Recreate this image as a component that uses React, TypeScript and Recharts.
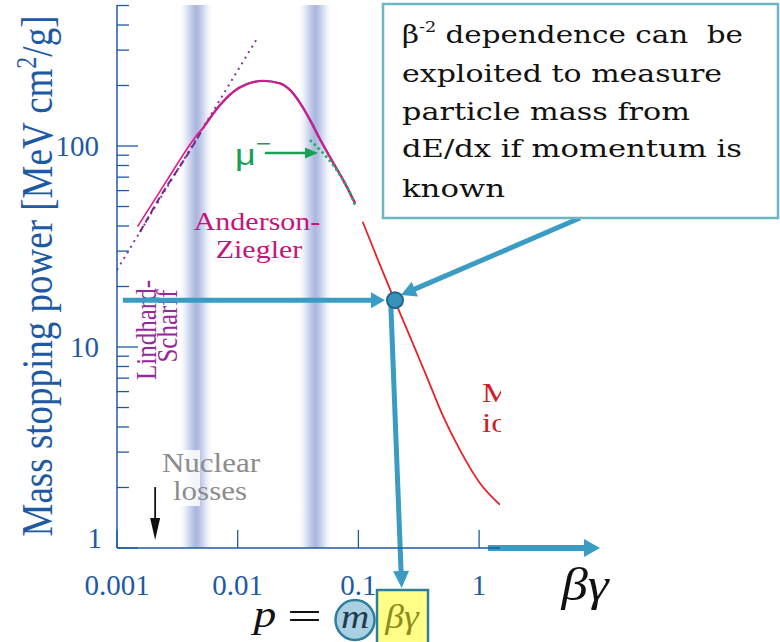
import React from "react";
import { ComposedChart, XAxis, YAxis, Line, ReferenceArea, ReferenceLine, ReferenceDot } from "recharts";

// curve readings (beta*gamma, MeV cm2/g)
const andersonZiegler = [
  { x: 0.00148, y: 39.7 },
  { x: 0.0026, y: 67.7 },
  { x: 0.00446, y: 111 },
  { x: 0.00536, y: 127 },
  { x: 0.00714, y: 160 },
  { x: 0.00919, y: 186 },
  { x: 0.01188, y: 203 },
  { x: 0.0163, y: 211 },
  { x: 0.0224, y: 205 },
  { x: 0.0271, y: 190 },
  { x: 0.0328, y: 164 },
  { x: 0.0397, y: 135 },
  { x: 0.0481, y: 108 },
  { x: 0.062, y: 82.3 },
  { x: 0.0749, y: 67.7 },
  { x: 0.0937, y: 52 },
];
const lindhardDashed = [
  { x: 0.00155, y: 37.3 },
  { x: 0.00228, y: 55.9 },
  { x: 0.00405, y: 95.5 },
  { x: 0.00536, y: 127 },
];
const lindhardSolid = andersonZiegler.slice(3);
const velocityLine = [
  { x: 0.001, y: 24.2 },
  { x: 0.0144, y: 341 },
];
const muonMinus = [
  { x: 0.0397, y: 107 },
  { x: 0.0497, y: 93.7 },
  { x: 0.0661, y: 75.9 },
  { x: 0.088, y: 55.9 },
  { x: 0.0937, y: 50.9 },
];
const betheBloch = [
  { x: 0.1085, y: 42.0 },
  { x: 0.1418, y: 28.1 },
  { x: 0.1888, y: 18.5 },
  { x: 0.2677, y: 11.25 },
  { x: 0.3681, y: 7.12 },
  { x: 0.5051, y: 4.5 },
  { x: 0.6948, y: 3.07 },
  { x: 1.017, y: 2.1 },
  { x: 1.49, y: 1.64 },
];
const measuredPoint = { x: 0.201, y: 17.1 };

// shaded bands (x ranges)
const bands = [
  [0.0032, 0.00637],
  [0.031, 0.0616],
];

const xTicks = [0.001, 0.01, 0.1, 1];
const xTopTicks = [0.01, 0.1, 1];
const yTicks = [1, 2, 3, 4, 5, 6, 7, 8, 9, 10, 20, 30, 40, 50, 60, 70, 80, 90, 100, 200, 300, 400, 500];
const yMajor = [1, 10, 100];

const boxLines = [
  "exploited to measure",
  "particle mass from",
  "dE/dx if momentum is",
  "known",
];

const BLUE = "#1d5aa3";
const TEAL = "#3a9bc3";
const SERIF = "Liberation Serif";

function arrowShape(color: string, width: number, head: number, half: number) {
  return (p: any) => {
    const { x1, y1, x2, y2 } = p;
    const dx = x2 - x1;
    const dy = y2 - y1;
    const len = Math.hypot(dx, dy) || 1;
    const ux = dx / len;
    const uy = dy / len;
    const bx = x2 - ux * head;
    const by = y2 - uy * head;
    return (
      <g>
        <line x1={x1} y1={y1} x2={bx + ux * 2} y2={by + uy * 2} stroke={color} strokeWidth={width} />
        <polygon
          points={`${x2},${y2} ${bx - uy * half},${by + ux * half} ${bx + uy * half},${by - ux * half}`}
          fill={color}
        />
      </g>
    );
  };
}

const YTick = (props: any) => {
  const { x, y, payload } = props;
  const v = payload.value;
  const major = yMajor.includes(v);
  return (
    <g>
      <line x1={x} y1={y} x2={x + (major ? 21 : 12)} y2={y} stroke={BLUE} strokeWidth={1.3} />
      {major && (
        <text x={v === 1 ? x - 15 : x - 18} y={v === 1 ? y - 10 : y} dy="0.35em" textAnchor="end"
          fontFamily={SERIF} fontSize={29} fill={BLUE}>
          {v}
        </text>
      )}
    </g>
  );
};

const XTick = (props: any) => {
  const { x, y, payload } = props;
  return (
    <g>
      <line x1={x} y1={y} x2={x} y2={y - 18} stroke={BLUE} strokeWidth={1.3} />
      <text x={x} y={y + 47} textAnchor="middle" fontFamily={SERIF} fontSize={29} fill={BLUE}>
        {payload.value}
      </text>
    </g>
  );
};

const TopTick = (props: any) => {
  const { x, y } = props;
  return <line x1={x} y1={y} x2={x} y2={y + 18} stroke={BLUE} strokeWidth={1.3} />;
};

export default function App() {
  return (
    <div style={{ position: "absolute", left: 0, top: 0, width: 780, height: 642, background: "#fff" }}>
      <ComposedChart width={780} height={642} margin={{ top: 5, right: 280, bottom: 64, left: 57 }}>
        <defs>
          <linearGradient id="band" x1="0" y1="0" x2="1" y2="0">
            <stop offset="0" stopColor="#ffffff" stopOpacity={0} />
            <stop offset="0.22" stopColor="#e4e9f6" />
            <stop offset="0.42" stopColor="#b8c3e5" />
            <stop offset="0.5" stopColor="#a9b6de" />
            <stop offset="0.6" stopColor="#b8c3e5" />
            <stop offset="0.8" stopColor="#e7ecf7" />
            <stop offset="1" stopColor="#ffffff" stopOpacity={0} />
          </linearGradient>
        </defs>
        <XAxis dataKey="x" type="number" scale="log" domain={[0.001, 1.49]} ticks={xTicks} interval={0}
          allowDataOverflow height={30} tickSize={0} tickMargin={0} tick={<XTick />} tickLine={false}
          axisLine={{ stroke: BLUE, strokeWidth: 1.5 }} />
        <XAxis xAxisId="top" orientation="top" dataKey="x" type="number" scale="log" domain={[0.001, 1.49]}
          ticks={xTopTicks} interval={0} allowDataOverflow height={0} tickSize={0} tickMargin={0}
          tick={<TopTick />} tickLine={false} axisLine={{ stroke: BLUE, strokeWidth: 1.5 }} />
        <YAxis dataKey="y" type="number" scale="log" domain={[1, 503]} ticks={yTicks} interval={0}
          allowDataOverflow width={60} tickSize={0} tickMargin={0} tick={<YTick />} tickLine={false}
          axisLine={{ stroke: BLUE, strokeWidth: 1.5 }} />

        {bands.map(([a, b], i) => (
          <ReferenceArea key={i} x1={a} x2={b} y1={1} y2={503} fill="url(#band)" fillOpacity={1} stroke="none" />
        ))}

        <g>
          <text transform="translate(52,276) scale(1.2,1) rotate(-90)" textAnchor="middle" fontFamily={SERIF}
            fontSize={37} fill={BLUE}>
            Mass stopping power [MeV cm
            <tspan dy={-13} fontSize={24}>2</tspan>
            <tspan dy={13}>/g]</tspan>
          </text>
          <text transform="translate(156,330) scale(1.2,1) rotate(-90)" textAnchor="middle" fontFamily={SERIF}
            fontSize={25} fill="#97279a">
            Lindhard-
          </text>
          <text transform="translate(177,326) scale(1.2,1) rotate(-90)" textAnchor="middle" fontFamily={SERIF}
            fontSize={25} fill="#97279a">
            Scharff
          </text>
        </g>

        <Line data={velocityLine} dataKey="y" type="linear" stroke="#8a3597" strokeWidth={2}
          strokeDasharray="2 4.5" dot={false} isAnimationActive={false} />
        <Line data={lindhardDashed} dataKey="y" type="monotone" stroke="#6e2c8f" strokeWidth={2}
          strokeDasharray="7 4" dot={false} isAnimationActive={false} />
        <Line data={lindhardSolid} dataKey="y" type="monotone" stroke="#6e2c8f" strokeWidth={2.4}
          dot={false} isAnimationActive={false} />
        <Line data={andersonZiegler} dataKey="y" type="monotone" stroke="#e8178a" strokeWidth={1.6}
          dot={false} isAnimationActive={false} />
        <Line data={muonMinus} dataKey="y" type="monotone" stroke="#1fae5a" strokeWidth={2.6}
          strokeDasharray="2.5 3" dot={false} isAnimationActive={false} />
        <Line data={betheBloch} dataKey="y" type="monotone" stroke="#e8222a" strokeWidth={1.8}
          dot={false} isAnimationActive={false} />

        <ReferenceLine segment={[{ x: 0.0168, y: 92.3 }, { x: 0.0463, y: 92.3 }]} ifOverflow="visible"
          shape={arrowShape("#1aa055", 2.5, 13, 5.5)} />
        <ReferenceLine segment={[{ x: 0.00207, y: 2.01 }, { x: 0.00207, y: 1.096 }]} ifOverflow="visible"
          shape={arrowShape("#111111", 1.8, 22, 5)} />
        <ReferenceLine segment={[{ x: 0.00112, y: 17.1 }, { x: 0.166, y: 17.1 }]} ifOverflow="visible"
          shape={arrowShape(TEAL, 5, 14, 8)} />
        <ReferenceLine segment={[{ x: 6.85, y: 43.8 }, { x: 0.2254, y: 18.14 }]} ifOverflow="visible"
          shape={arrowShape(TEAL, 5, 15, 8)} />
        <ReferenceLine segment={[{ x: 0.185, y: 17.1 }, { x: 0.2285, y: 0.632 }]} ifOverflow="visible"
          shape={arrowShape(TEAL, 5, 17, 8)} />
        <ReferenceLine segment={[{ x: 1.185, y: 1 }, { x: 10.04, y: 1 }]} ifOverflow="visible"
          shape={arrowShape(TEAL, 6, 16, 9)} />
        <ReferenceDot x={measuredPoint.x} y={measuredPoint.y} r={8} fill="#3692ba" stroke="#1f6688"
          strokeWidth={2} ifOverflow="visible" />
      </ComposedChart>

      <svg width={780} height={642} style={{ position: "absolute", left: 0, top: 0, pointerEvents: "none" }}>
        <defs>
          <clipPath id="plotRight">
            <rect x={0} y={0} width={501} height={642} />
          </clipPath>
        </defs>

        <text transform="translate(257,230) scale(1.2,1)" textAnchor="middle" fontFamily={SERIF}
          fontSize={25} fill="#c8127a">Anderson-</text>
        <text transform="translate(259,258) scale(1.2,1)" textAnchor="middle" fontFamily={SERIF}
          fontSize={25} fill="#c8127a">Ziegler</text>

        <rect x={172} y={450} width={28} height={56} fill="#ffffff" fillOpacity={0.85} />
        <text transform="translate(211,472) scale(1.15,1)" textAnchor="middle" fontFamily={SERIF}
          fontSize={27} fill="#8c8c8c">Nuclear</text>
        <text transform="translate(210,500) scale(1.15,1)" textAnchor="middle" fontFamily={SERIF}
          fontSize={27} fill="#8c8c8c">losses</text>

        <g clipPath="url(#plotRight)">
          <text transform="translate(482,402) scale(1.2,1)" fontFamily={SERIF} fontSize={28} fill="#cc1f2a">Minimum</text>
          <text transform="translate(482,432) scale(1.2,1)" fontFamily={SERIF} fontSize={28} fill="#cc1f2a">ionization</text>
        </g>

        <text transform="translate(235,165) scale(1.2,1)" fontFamily="Liberation Sans" fontSize={30} fill="#1aa055">
          μ<tspan dy={-14} fontSize={22}>−</tspan>
        </text>

        <rect x={383} y={4} width={395} height={214} fill="#fff" stroke="#6cb7c3" strokeWidth={2.5} />
        <g fontFamily="DejaVu Serif" fontSize={25} fill="#111">
          <text x={402} y={43} textLength={341} lengthAdjust="spacingAndGlyphs" style={{ whiteSpace: "pre" }}>
            β<tspan dy={-11} fontSize={15}>-2</tspan>
            <tspan dy={11}> dependence can  be</tspan>
          </text>
          <text x={402} y={82} textLength={320} lengthAdjust="spacingAndGlyphs">{boxLines[0]}</text>
          <text x={402} y={120} textLength={288} lengthAdjust="spacingAndGlyphs">{boxLines[1]}</text>
          <text x={402} y={157} textLength={340} lengthAdjust="spacingAndGlyphs">{boxLines[2]}</text>
          <text x={402} y={197} textLength={103} lengthAdjust="spacingAndGlyphs">{boxLines[3]}</text>
        </g>

        <text transform="translate(585,600) scale(1.15,1)" textAnchor="middle" fontFamily={SERIF}
          fontStyle="italic" fontSize={46} fill="#111">βγ</text>

        <text transform="translate(265,627) scale(1.2,1)" textAnchor="middle" fontFamily={SERIF}
          fontStyle="italic" fontSize={38} fill="#111">p</text>
        <text x={287} y={630} textLength={35} lengthAdjust="spacingAndGlyphs" fontFamily={SERIF}
          fontSize={40} fill="#111">=</text>
        <ellipse cx={355} cy={620} rx={19.5} ry={20} fill="#a8d0e2" stroke="#2e7f9e" strokeWidth={2.5} />
        <text transform="translate(355,628) scale(1.15,1)" textAnchor="middle" fontFamily={SERIF}
          fontStyle="italic" fontSize={34} fill="#1e3c4c">m</text>
        <rect x={377} y={590} width={51} height={60} fill="#ffff88" stroke="#2e7f9e" strokeWidth={2.5} />
        <text transform="translate(402,628) scale(1.1,1)" textAnchor="middle" fontFamily={SERIF}
          fontStyle="italic" fontSize={34} fill="#8c8c1a">βγ</text>
      </svg>
    </div>
  );
}
